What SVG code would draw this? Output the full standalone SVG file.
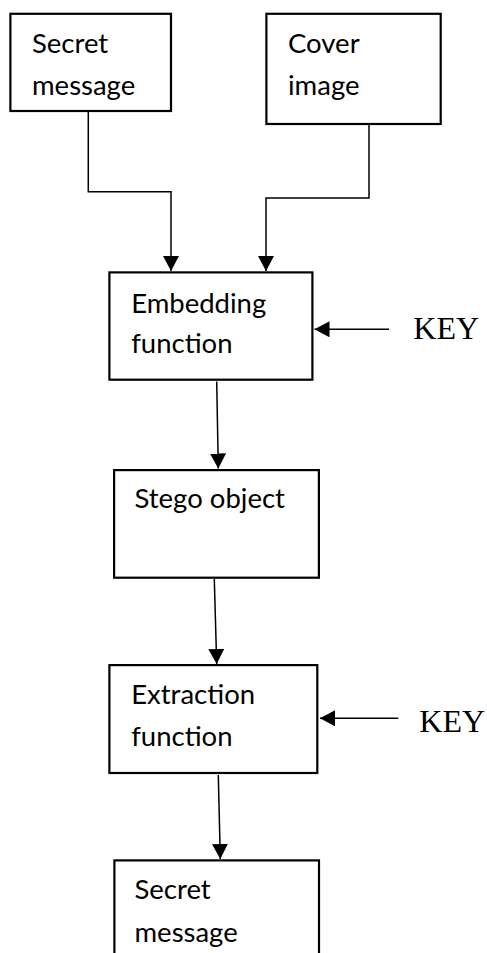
<svg xmlns="http://www.w3.org/2000/svg" width="487" height="953" viewBox="0 0 487 953">
  <style>
    .box { fill: #ffffff; stroke: #000000; stroke-width: 2.2; }
    .lbl { font-family: Lato, "Noto Sans", "Liberation Sans", sans-serif; font-size: 27.5px; fill: #000000; }
    .key { font-family: "Liberation Serif", "Times New Roman", serif; font-size: 32px; fill: #000000; }
    .wire { fill: none; stroke: #000000; stroke-width: 1.5; }
  </style>
  <defs>
    <marker id="arrow" viewBox="0 0 15 16" refX="15" refY="8" markerWidth="15" markerHeight="16" markerUnits="userSpaceOnUse" orient="auto">
      <path d="M0,0 L15,8 L0,16 Z" fill="#000000"/>
    </marker>
  </defs>
  <rect width="487" height="953" fill="#ffffff"/>

  <g id="connectors">
    <path class="wire" d="M88.3,112 V191.7 H171 V271" marker-end="url(#arrow)"/>
    <path class="wire" d="M369,125 V198 H266 V271" marker-end="url(#arrow)"/>
    <path class="wire" d="M389,329.3 H314.5" marker-end="url(#arrow)"/>
    <path class="wire" d="M216.7,381.5 L218.3,468.5" marker-end="url(#arrow)"/>
    <path class="wire" d="M214.3,579 L216.7,664" marker-end="url(#arrow)"/>
    <path class="wire" d="M398.3,718.3 H320" marker-end="url(#arrow)"/>
    <path class="wire" d="M218.3,775 L220.3,859" marker-end="url(#arrow)"/>
  </g>

  <g id="secret-message-in">
    <rect class="box" x="10.4" y="13.8" width="160.6" height="97.2"/>
    <text class="lbl" x="32" y="52.7">Secret</text>
    <text class="lbl" x="32" y="95">message</text>
  </g>

  <g id="cover-image">
    <rect class="box" x="266.4" y="13.8" width="174.3" height="110.2"/>
    <text class="lbl" x="288" y="52.7">Cover</text>
    <text class="lbl" x="288" y="95">image</text>
  </g>

  <g id="embedding-function">
    <rect class="box" x="109.4" y="272.4" width="203" height="107.3"/>
    <text class="lbl" x="131.2" y="312.7">Embedding</text>
    <text class="lbl" x="131.2" y="353.3">function</text>
  </g>

  <g id="key-embed">
    <text class="key" x="413.3" y="339">KEY</text>
  </g>

  <g id="stego-object">
    <rect class="box" x="114.1" y="470.1" width="204.8" height="107.6"/>
    <text class="lbl" x="134.5" y="508.3">Stego object</text>
  </g>

  <g id="extraction-function">
    <rect class="box" x="109.4" y="665.1" width="207.9" height="107.9"/>
    <text class="lbl" x="131.2" y="704.3">Extraction</text>
    <text class="lbl" x="131.2" y="746">function</text>
  </g>

  <g id="key-extract">
    <text class="key" x="419.3" y="731.7">KEY</text>
  </g>

  <g id="secret-message-out">
    <rect class="box" x="114.4" y="860.4" width="204.6" height="120"/>
    <text class="lbl" x="134.5" y="899.3">Secret</text>
    <text class="lbl" x="134.5" y="941.7">message</text>
  </g>
</svg>
